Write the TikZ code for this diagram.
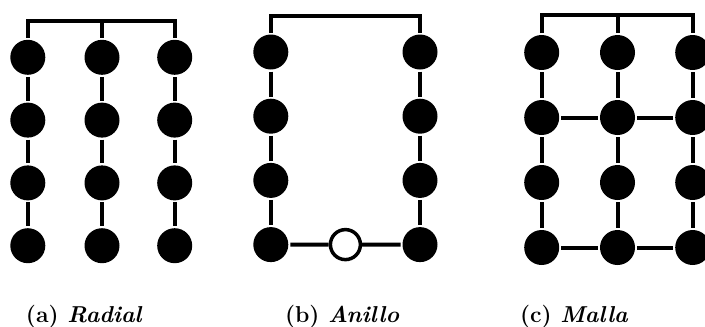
\documentclass[tikz,border=0pt]{standalone}
\usetikzlibrary{positioning,calc}

\tikzset{
  nodo/.style={circle, fill=black, minimum size=35pt, inner sep=0pt},
  abierto/.style={circle, draw=black, fill=white, line width=3.5pt, minimum size=30pt, inner sep=0pt},
  pie/.style={anchor=base west, inner sep=0pt, font=\fontsize{23}{27}\selectfont\bfseries},
}

\begin{document}
\begin{tikzpicture}[x=1pt, y=-1pt, line width=4pt]
  \useasboundingbox (0,0) rectangle (705,327);
  \clip (0,0) rectangle (705,327);

  % radial: tres ramas colgando de la barra
  \begin{scope}[node distance=62.8pt]
    \node[nodo] (a11) at (27.8,57.3) {};
    \node[nodo] (a12) at (102,57.3) {};
    \node[nodo] (a13) at (174.7,57.3) {};
    \node[nodo, below of=a11] (a21) {};
    \node[nodo, below of=a12] (a22) {};
    \node[nodo, below of=a13] (a23) {};
    \node[nodo, below of=a21] (a31) {};
    \node[nodo, below of=a22] (a32) {};
    \node[nodo, below of=a23] (a33) {};
    \node[nodo, below of=a31] (a41) {};
    \node[nodo, below of=a32] (a42) {};
    \node[nodo, below of=a33] (a43) {};
  \end{scope}
  \coordinate (ta1) at (27.8,21.3);
  \coordinate (ta2) at (102,21.3);
  \coordinate (ta3) at (174.7,21.3);

  \draw (a11) -- (ta1) -- (ta3) -- (a13);
  \draw (ta2) -- (a12);
  \draw (a11) -- (a21) -- (a31) -- (a41);
  \draw (a12) -- (a22) -- (a32) -- (a42);
  \draw (a13) -- (a23) -- (a33) -- (a43);

  % anillo: lazo cerrado con un punto abierto
  \begin{scope}[node distance=64.2pt]
    \node[nodo] (b11) at (270.8,52) {};
    \node[nodo] (b12) at (420,52) {};
    \node[nodo, below of=b11] (b21) {};
    \node[nodo, below of=b12] (b22) {};
    \node[nodo, below of=b21] (b31) {};
    \node[nodo, below of=b22] (b32) {};
    \node[nodo, below of=b31] (b41) {};
    \node[nodo, below of=b32] (b42) {};
  \end{scope}
  \node[abierto] (sw) at ($(b41)!0.5!(b42)$) {};
  \coordinate (tb1) at (270.8,16);
  \coordinate (tb2) at (420,16);

  \draw (b11) -- (tb1) -- (tb2) -- (b12);
  \draw (b11) -- (b21) -- (b31) -- (b41);
  \draw (b12) -- (b22) -- (b32) -- (b42);
  \draw (b41) -- (sw) -- (b42);

  % malla: ramas unidas en dos filas
  \begin{scope}[node distance=65pt]
    \node[nodo] (c11) at (541.7,52.5) {};
    \node[nodo] (c12) at (617.5,52.5) {};
    \node[nodo] (c13) at (692.7,52.5) {};
    \node[nodo, below of=c11] (c21) {};
    \node[nodo, below of=c12] (c22) {};
    \node[nodo, below of=c13] (c23) {};
    \node[nodo, below of=c21] (c31) {};
    \node[nodo, below of=c22] (c32) {};
    \node[nodo, below of=c23] (c33) {};
    \node[nodo, below of=c31] (c41) {};
    \node[nodo, below of=c32] (c42) {};
    \node[nodo, below of=c33] (c43) {};
  \end{scope}
  \coordinate (tc1) at (541.7,15);
  \coordinate (tc2) at (617.5,15);
  \coordinate (tc3) at (692.7,15);

  \draw (c11) -- (tc1) -- (tc3) -- (c13);
  \draw (tc2) -- (c12);
  \draw (c11) -- (c21) -- (c31) -- (c41);
  \draw (c12) -- (c22) -- (c32) -- (c42);
  \draw (c13) -- (c23) -- (c33) -- (c43);
  \draw (c21) -- (c22) -- (c23);
  \draw (c41) -- (c42) -- (c43);

  % rotulos
  \node[pie] (pa) at (24,322) {(a)~\textit{Radial}};
  \node[pie] (pb) at (283,322) {(b)~\textit{Anillo}};
  \node[pie] (pc) at (518,322) {(c)~\textit{Malla}};
\end{tikzpicture}
\end{document}
